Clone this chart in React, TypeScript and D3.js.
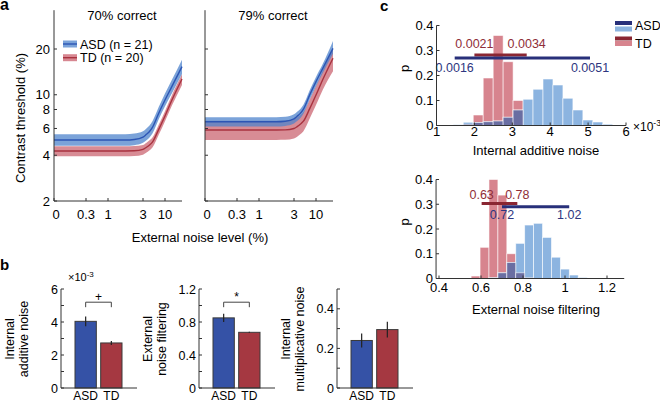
import React from "react";
import * as d3 from "d3";

const FONT = "Arial, 'Liberation Sans', Helvetica, sans-serif";

// ---------- Panel a: threshold vs. external noise ----------
const noiseLevels = [0, 0.3, 1, 2, 2.5, 3, 4, 5, 6, 8, 10, 14, 20];
const asd70Mid = [5.04, 5.04, 5.04, 5.04, 5.08, 5.27, 5.47, 5.71, 6.1, 7.56, 9.24, 11.3, 15.3];
const asd70Hi = [5.5, 5.5, 5.5, 5.5, 5.55, 5.75, 5.98, 6.25, 6.7, 8.3, 10.2, 12.5, 17.0];
const asd70Lo = [4.62, 4.62, 4.62, 4.62, 4.66, 4.83, 5.0, 5.22, 5.55, 6.9, 8.4, 10.2, 13.7];
const td70Mid = [4.27, 4.27, 4.27, 4.27, 4.28, 4.37, 4.5, 4.66, 4.88, 5.92, 7.25, 9.2, 12.7];
const td70Hi = [4.58, 4.58, 4.58, 4.58, 4.6, 4.68, 4.82, 5.0, 5.23, 6.35, 7.8, 9.9, 13.7];
const td70Lo = [3.94, 3.94, 3.94, 3.94, 3.95, 4.03, 4.15, 4.3, 4.5, 5.45, 6.7, 8.45, 11.6];
const asd79Mid = [6.65, 6.65, 6.65, 6.65, 6.7, 6.95, 7.22, 7.54, 8.05, 9.98, 12.2, 14.9, 20.2];
const asd79Hi = [7.12, 7.12, 7.12, 7.12, 7.17, 7.44, 7.73, 8.07, 8.6, 10.7, 13.1, 16.0, 22.6];
const asd79Lo = [6.18, 6.18, 6.18, 6.18, 6.23, 6.46, 6.71, 7.0, 7.5, 9.3, 11.35, 13.9, 18.6];
const td79Mid = [5.86, 5.86, 5.86, 5.86, 5.87, 6.0, 6.17, 6.4, 6.7, 8.1, 9.95, 12.6, 17.4];
const td79Hi = [6.75, 6.75, 6.75, 6.75, 6.75, 6.9, 7.1, 7.35, 7.7, 9.3, 11.4, 14.5, 20.0];
const td79Lo = [5.04, 5.04, 5.04, 5.04, 5.05, 5.16, 5.3, 5.5, 5.76, 6.97, 8.55, 10.8, 14.3];
const noiseTicks = [0, 0.3, 1, 3, 10];
const noiseTickLabels = ["0", "0.3", "1", "3", "10"];
const thresholdTicks = [2, 4, 6, 8, 10, 20];
const panelTitles = ["70% correct", "79% correct"];
const legendLabels = ["ASD (n = 21)", "TD (n = 20)"];

// ---------- Panel b: model parameters ----------
const groups = ["ASD", "TD"];
const additiveMean = [4.04, 2.73];
const additiveErr = [0.3, 0.12];
const filteringMean = [0.85, 0.675];
const filteringErr = [0.05, 0.006];
const multMean = [0.24, 0.295];
const multErr = [0.035, 0.04];
const additiveTicks = [0, 1, 2, 3, 4, 5, 6];
const additiveLabels = [0, 2, 4, 6];
const filteringTicks = [0, 0.2, 0.4, 0.6, 0.8, 1.0, 1.2];
const filteringLabels = [0, 0.4, 0.8, 1.2];
const multTicks = [0, 0.1, 0.2, 0.3, 0.4, 0.5];
const multLabels = [0, 0.2, 0.4];

// ---------- Panel c: bootstrap distributions ----------
const addBinStarts = [0.917, 1.18, 1.443, 1.706, 1.969, 2.232, 2.495, 2.758, 3.021, 3.284, 3.547, 3.81, 4.073, 4.336, 4.599, 4.862, 5.125, 5.388, 5.651];
const addASD = [0.002, 0.002, 0.003, 0.013, 0.012, 0.015, 0.018, 0.033, 0.062, 0.105, 0.145, 0.186, 0.162, 0.109, 0.062, 0.022, 0.014, 0.005, 0.002];
const addTD = [0, 0, 0, 0.005, 0.042, 0.19, 0.36, 0.255, 0.1, 0, 0, 0, 0, 0, 0, 0, 0, 0, 0];
const addCI_ASD = [1.48, 5.05];
const addCI_TD = [2.0, 3.38];
const addCILabelsASD = ["0.0016", "0.0051"];
const addCILabelsTD = ["0.0021", "0.0034"];
const addXTicks = [1, 2, 3, 4, 5, 6];
const pTicks = [0, 0.1, 0.2, 0.3, 0.4];

const filtBinStarts = [0.553, 0.5955, 0.638, 0.6805, 0.723, 0.7655, 0.808, 0.8505, 0.893, 0.9355, 0.978, 1.0205, 1.063];
const filtASD = [0, 0, 0.003, 0.023, 0.065, 0.142, 0.216, 0.223, 0.166, 0.086, 0.038, 0.014, 0.004];
const filtTD = [0.01, 0.126, 0.4, 0.337, 0.1, 0.023, 0.003, 0, 0, 0, 0, 0, 0];
const filtCI_ASD = [0.7, 1.02];
const filtCI_TD = [0.603, 0.773];
const filtCILabelsASD = ["0.72", "1.02"];
const filtCILabelsTD = ["0.63", "0.78"];
const filtXTicks = [0.4, 0.6, 0.8, 1.0, 1.2];

const AX = "#333";
const C = {
  asdBand: "#4f84cc",
  asdLine: "#2c55b4",
  tdBand: "#c95f6c",
  tdLine: "#a8323f",
  asdBar: "#3552a6",
  tdBar: "#a53841",
  histBlue: "#8cb4e0",
  histRed: "#d7848e",
  histPurple: "#6a6ea2",
  ciNavy: "#28307a",
  ciRed: "#8a2632",
  txtNavy: "#2e3680",
  txtRed: "#8f2e38",
};

const fmt = (v: number) => (v === 0 ? "0" : String(+v.toFixed(2)));

function CurvePanel({ ox, title, series, showLabels, showLegend }: any) {
  const x = d3.scaleLinear().domain([0, 0.3, 1, 3, 10, 20]).range([ox, ox + 32, ox + 54, ox + 89, ox + 111, ox + 128]);
  const y = d3.scaleLog().domain([2, 20]).range([201, 49]);
  const area = (lo: number[], hi: number[]) =>
    d3.area<number>().x((d) => x(d)).y0((_, i) => y(lo[i])).y1((_, i) => y(hi[i])).curve(d3.curveMonotoneX)(noiseLevels) as string;
  const line = (m: number[]) =>
    d3.line<number>().x((d) => x(d)).y((_, i) => y(m[i])).curve(d3.curveMonotoneX)(noiseLevels) as string;
  return (
    <g>
      <path d={area(series.tdLo, series.tdHi)} fill={C.tdBand} fillOpacity={0.72} />
      <path d={area(series.asdLo, series.asdHi)} fill={C.asdBand} fillOpacity={0.75} />
      <path d={line(series.td)} fill="none" stroke={C.tdLine} strokeWidth={1.4} />
      <path d={line(series.asd)} fill="none" stroke={C.asdLine} strokeWidth={1.4} />
      {/* axes */}
      <line x1={ox} x2={ox} y1={y(2)} y2={y(36)} stroke={AX} strokeWidth={1} />
      <line x1={ox} x2={x(20)} y1={y(2)} y2={y(2)} stroke={AX} strokeWidth={1} />
      {thresholdTicks.map((t) => (
        <g key={t}>
          <line x1={ox} x2={ox + 3} y1={y(t)} y2={y(t)} stroke={AX} />
          {showLabels && (
            <text x={ox - 4} y={y(t) + 4.5} textAnchor="end" fontSize={13}>
              {t}
            </text>
          )}
        </g>
      ))}
      {noiseTicks.map((t, i) => (
        <g key={t}>
          <line x1={x(t)} x2={x(t)} y1={y(2)} y2={y(2) - 3} stroke={AX} />
          <text x={x(t) + (i === 0 ? 2 : 0)} y={218.5} textAnchor="middle" fontSize={13}>
            {noiseTickLabels[i]}
          </text>
        </g>
      ))}
      <text x={(ox + x(20)) / 2 + 4} y={20} textAnchor="middle" fontSize={13}>
        {title}
      </text>
      {showLegend &&
        legendLabels.map((lab, i) => {
          const ly = 44 + i * 13.7;
          return (
            <g key={lab}>
              <rect x={63} y={ly - 3.5} width={14} height={7} fill={i === 0 ? C.asdBand : C.tdBand} fillOpacity={0.75} />
              <line x1={63} x2={77} y1={ly} y2={ly} stroke={i === 0 ? C.asdLine : C.tdLine} strokeWidth={1.4} />
              <text x={80} y={ly + 4.5} fontSize={12.5}>
                {lab}
              </text>
            </g>
          );
        })}
    </g>
  );
}

function BarPlot({ ox, max, ticks, labels, means, errs, sig, sigY, yLabel, exponent }: any) {
  const y = d3.scaleLinear().domain([0, max]).range([388, 289]);
  const xb = d3.scaleBand<string>().domain(groups).range([ox + 14, ox + 61]).paddingInner(0.17);
  const colors = [C.asdBar, C.tdBar];
  const cx = (g: string) => (xb(g) as number) + xb.bandwidth() / 2;
  return (
    <g>
      {groups.map((g, i) => (
        <g key={g}>
          <rect x={xb(g)} y={y(means[i])} width={xb.bandwidth()} height={y(0) - y(means[i])} fill={colors[i]} stroke="#3a3a3a" strokeWidth={1} />
          <line x1={cx(g)} x2={cx(g)} y1={y(means[i] - errs[i])} y2={y(means[i] + errs[i])} stroke="#222" strokeWidth={1.2} />
          <text x={cx(g)} y={400} textAnchor="middle" fontSize={12}>
            {g}
          </text>
        </g>
      ))}
      <line x1={ox} x2={ox} y1={y(0)} y2={y(max)} stroke={AX} />
      <line x1={ox} x2={ox + 76} y1={y(0)} y2={y(0)} stroke={AX} />
      {ticks.map((t: number) => (
        <line key={t} x1={ox} x2={ox + 3} y1={y(t)} y2={y(t)} stroke={AX} />
      ))}
      {labels.map((t: number) => (
        <text key={t} x={ox - 3} y={y(t) + 4.5} textAnchor="end" fontSize={12.5}>
          {fmt(t)}
        </text>
      ))}
      {sig && (
        <g>
          <path
            d={`M${cx("ASD")},${y(sigY) + 5}V${y(sigY)}H${cx("TD")}V${y(sigY) + 5}`}
            fill="none"
            stroke="#444"
            strokeWidth={1}
          />
          <text x={(cx("ASD") + cx("TD")) / 2} y={y(sigY) - 1} textAnchor="middle" fontSize={12}>
            {sig}
          </text>
        </g>
      )}
      {exponent && (
        <text x={ox + 7} y={281} fontSize={11}>
          ×10<tspan dy={-4} fontSize={8}>-3</tspan>
        </text>
      )}
      <g transform={`translate(${ox - 33},339) rotate(-90)`}>
        <text x={0} y={-14} textAnchor="middle" fontSize={12.5}>
          {yLabel[0]}
        </text>
        <text x={0} y={0} textAnchor="middle" fontSize={12.5}>
          {yLabel[1]}
        </text>
      </g>
    </g>
  );
}

function Hist({ xs, ys, xStart, xEnd, binStarts, binW, asd, td, ciA, ciT, labA, labT, ciYA, ciYT, labYA, labYT, xTicks, xLabel, xLabelY, tickLabelY, exponent, showLegend }: any) {
  const clampX = (v: number) => Math.max(xs(xStart), xs(v));
  const bar = (v: number, i: number, fill: string) => {
    if (v <= 0) return null;
    const x0 = clampX(binStarts[i]);
    const x1 = xs(binStarts[i] + binW);
    return <rect key={fill + i} x={x0} y={ys(v)} width={x1 - x0} height={ys(0) - ys(v)} fill={fill} stroke="#ffffff" strokeOpacity={0.7} strokeWidth={0.8} />;
  };
  return (
    <g>
      {td.map((v: number, i: number) => bar(v, i, C.histRed))}
      {asd.map((v: number, i: number) => bar(v, i, C.histBlue))}
      {asd.map((v: number, i: number) => bar(Math.min(v, td[i]), i, C.histPurple))}
      {/* CI lines */}
      <line x1={xs(ciT[0])} x2={xs(ciT[1])} y1={ys(ciYT)} y2={ys(ciYT)} stroke={C.ciRed} strokeWidth={3} />
      <line x1={xs(ciA[0])} x2={xs(ciA[1])} y1={ys(ciYA)} y2={ys(ciYA)} stroke={C.ciNavy} strokeWidth={3} />
      {labT.map((l: string, i: number) => (
        <text key={l} x={xs(ciT[i])} y={ys(labYT)} textAnchor="middle" fontSize={12.5} fill={C.txtRed}>
          {l}
        </text>
      ))}
      {labA.map((l: string, i: number) => (
        <text key={l} x={xs(ciA[i])} y={ys(labYA)} textAnchor="middle" fontSize={12.5} fill={C.txtNavy}>
          {l}
        </text>
      ))}
      {/* axes */}
      <line x1={xs(xStart)} x2={xs(xStart)} y1={ys(0)} y2={ys(0.4)} stroke={AX} />
      <line x1={xs(xStart)} x2={xs(xEnd)} y1={ys(0)} y2={ys(0)} stroke={AX} />
      {pTicks.map((t) => (
        <g key={t}>
          <line x1={xs(xStart)} x2={xs(xStart) + 3} y1={ys(t)} y2={ys(t)} stroke={AX} />
          <text x={xs(xStart) - 3} y={ys(t) + 4.5} textAnchor="end" fontSize={13}>
            {fmt(t)}
          </text>
        </g>
      ))}
      {xTicks.map((t: number) => (
        <g key={t}>
          <line x1={xs(t)} x2={xs(t)} y1={ys(0)} y2={ys(0) - 3} stroke={AX} />
          <text x={xs(t)} y={tickLabelY} textAnchor="middle" fontSize={13}>
            {fmt(t)}
          </text>
        </g>
      ))}
      <text x={536} y={xLabelY} textAnchor="middle" fontSize={13}>
        {xLabel}
      </text>
      <text transform={`translate(409,${(ys(0) + ys(0.4)) / 2 - 7}) rotate(-90)`} textAnchor="middle" fontSize={13}>
        p
      </text>
      {exponent && (
        <text x={xs(xEnd) + 7} y={ys(0) + 5} fontSize={12}>
          ×10<tspan dy={-5} fontSize={8.5}>-3</tspan>
        </text>
      )}
      {showLegend && (
        <g>
          <rect x={615} y={21} width={17} height={4} fill={C.ciNavy} />
          <rect x={615} y={26.5} width={17} height={5} fill={C.histBlue} />
          <text x={635} y={30} fontSize={12.5}>ASD</text>
          <rect x={615} y={36.5} width={17} height={4} fill={C.ciRed} />
          <rect x={615} y={41} width={17} height={5} fill={C.histRed} />
          <text x={635} y={47.5} fontSize={12.5}>TD</text>
        </g>
      )}
    </g>
  );
}

export default function App() {
  const xsTop = d3.scaleLinear().domain([1, 6]).range([436.5, 626]);
  const ysTop = d3.scaleLinear().domain([0, 0.4]).range([125.5, 25.5]);
  const xsBot = d3.scaleLinear().domain([0.4, 1.2]).range([439, 607]);
  const ysBot = d3.scaleLinear().domain([0, 0.4]).range([278.5, 179.5]);
  return (
    <svg width={660} height={400} style={{ position: "absolute", left: 0, top: 0, background: "#fff" }} fontFamily={FONT}>
      <rect width={660} height={400} fill="#fff" />
      <text x={0} y={10} fontSize={16} fontWeight="bold">a</text>
      <text x={0} y={270} fontSize={15} fontWeight="bold">b</text>
      <text x={380} y={11} fontSize={15} fontWeight="bold">c</text>

      <CurvePanel ox={54} title={panelTitles[0]} showLabels showLegend
        series={{ asd: asd70Mid, asdLo: asd70Lo, asdHi: asd70Hi, td: td70Mid, tdLo: td70Lo, tdHi: td70Hi }} />
      <CurvePanel ox={205} title={panelTitles[1]}
        series={{ asd: asd79Mid, asdLo: asd79Lo, asdHi: asd79Hi, td: td79Mid, tdLo: td79Lo, tdHi: td79Hi }} />
      <text transform="translate(25,118) rotate(-90)" textAnchor="middle" fontSize={13}>
        Contrast threshold (%)
      </text>
      <text x={200} y={241.5} textAnchor="middle" fontSize={13}>
        External noise level (%)
      </text>

      <BarPlot ox={61} max={6} ticks={additiveTicks} labels={additiveLabels} means={additiveMean} errs={additiveErr}
        sig="+" sigY={5.2} yLabel={["Internal", "additive noise"]} exponent />
      <BarPlot ox={199} max={1.2} ticks={filteringTicks} labels={filteringLabels} means={filteringMean} errs={filteringErr}
        sig="*" sigY={1.04} yLabel={["External", "noise filtering"]} />
      <BarPlot ox={337} max={0.5} ticks={multTicks} labels={multLabels} means={multMean} errs={multErr}
        yLabel={["Internal", "multiplicative noise"]} />

      <Hist xs={xsTop} ys={ysTop} xStart={1} xEnd={6} binStarts={addBinStarts} binW={0.263} asd={addASD} td={addTD}
        ciA={addCI_ASD} ciT={addCI_TD} labA={addCILabelsASD} labT={addCILabelsTD} ciYA={0.27} ciYT={0.282}
        labYA={0.215} labYT={0.31} xTicks={addXTicks} xLabel="Internal additive noise" xLabelY={155} tickLabelY={136}
        exponent showLegend />
      <Hist xs={xsBot} ys={ysBot} xStart={0.386} xEnd={1.282} binStarts={filtBinStarts} binW={0.0425} asd={filtASD} td={filtTD}
        ciA={filtCI_ASD} ciT={filtCI_TD} labA={filtCILabelsASD} labT={filtCILabelsTD} ciYA={0.29} ciYT={0.303}
        labYA={0.24} labYT={0.32} xTicks={filtXTicks} xLabel="External noise filtering" xLabelY={314} tickLabelY={292} />
    </svg>
  );
}
